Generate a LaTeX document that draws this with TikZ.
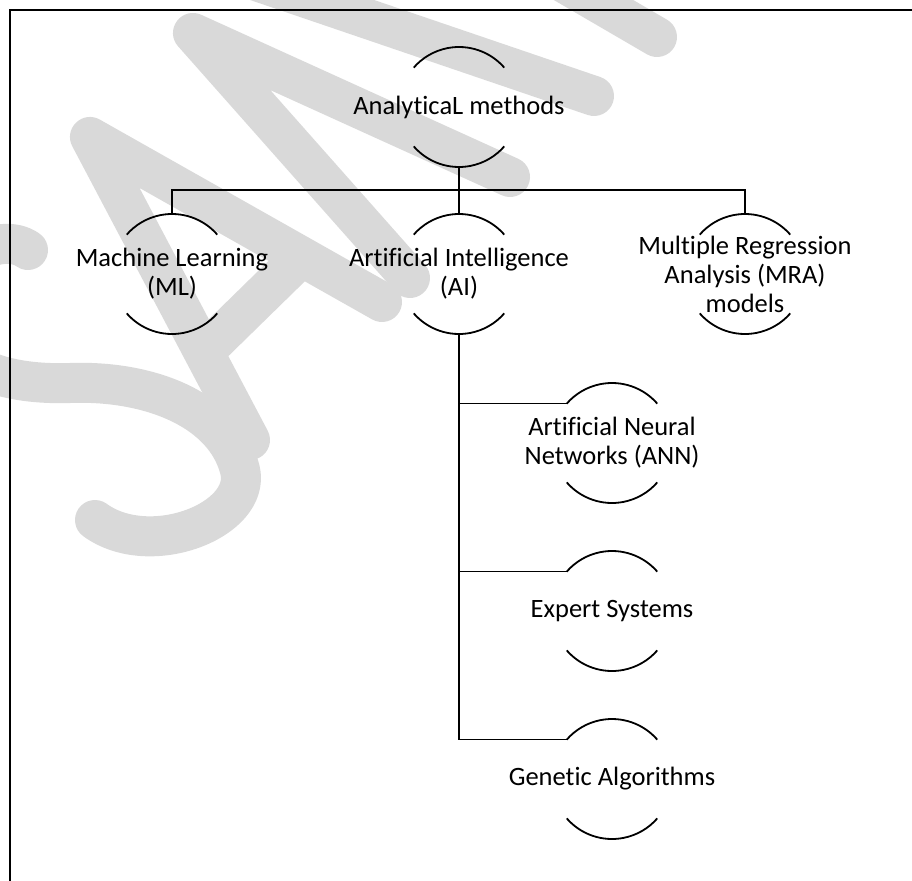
\documentclass[tikz,border=0pt]{standalone}
\usepackage{fontspec}
\setmainfont{Carlito}[Ligatures=NoCommon]
\newcommand\ringarcs[1]{%
  \draw[arcline] ([shift={(41:60pt)}]#1.center) arc[start angle=41,end angle=139,radius=60pt];
  \draw[arcline] ([shift={(221:60pt)}]#1.center) arc[start angle=221,end angle=319,radius=60pt];}
\begin{document}
\begin{tikzpicture}[x=1pt,y=-1pt,
  lbl/.style={font=\fontsize{26.5}{29}\selectfont, align=center, inner sep=0pt},
  ring/.style={circle, minimum size=120pt, inner sep=0pt, draw=none},
  arcline/.style={line width=1.8pt},
  link/.style={line width=1.8pt},
  frame/.style={line width=2pt},
  wmark/.style={draw=black!15, line width=40pt, line cap=round, line join=round}]
\useasboundingbox (0,0) rectangle (912,880);
\clip (0,0) rectangle (912,880);
% watermark "SAMPLE" (partly visible), drawn as strokes
\draw[wmark] (28,250) .. controls (0,230) and (-60,260) .. (-55,320)
   .. controls (-50,370) and (10,385) .. (70,383)
   .. controls (150,380) and (225,410) .. (240,470)
   .. controls (252,520) and (150,560) .. (95,520);
\draw[wmark] (250,440) -- (90,137) -- (382,302);
\draw[wmark] (206,350) -- (296,262);
\draw[wmark] (410,278) -- (193,33) -- (510,177);
\draw[wmark] (224,-30) -- (594,96);
\draw[wmark] (542,-30) -- (657,37);
% frame
\draw[frame] (930,10) -- (10,10) -- (10,900);
% rings
\node[ring] (top) at (459,107) {};
\node[ring] (ml) at (172,274) {};
\node[ring] (ai) at (459,274) {};
\node[ring] (mra) at (745,274) {};
\node[ring] (ann) at (612,443) {};
\node[ring] (exp) at (612,611) {};
\node[ring] (gen) at (612,779) {};
\ringarcs{top}\ringarcs{ml}\ringarcs{ai}\ringarcs{mra}\ringarcs{ann}\ringarcs{exp}\ringarcs{gen}
% labels
\node[lbl] (toplbl) at (top) {AnalyticaL methods};
\node[lbl] (mllbl) at (ml) {Machine Learning\\(ML)};
\node[lbl] (ailbl) at (ai) {Artificial Intelligence\\(AI)};
\node[lbl] (mralbl) at (mra) {Multiple Regression\\Analysis (MRA)\\models};
\node[lbl] (annlbl) at (ann) {Artificial Neural\\Networks (ANN)};
\node[lbl] (explbl) at (exp) {Expert Systems};
\node[lbl] (genlbl) at (gen) {Genetic Algorithms};
% connectors
\coordinate (bar) at (459,190);
\draw[link] (top.south) -- (bar);
\draw[link] (ml.north) |- (bar) -| (mra.north);
\draw[link] (bar) -- (ai.north);
\draw[link] (ai.south) |- (gen.139);
\draw[link] (ai.south |- ann.139) -- (ann.139);
\draw[link] (ai.south |- exp.139) -- (exp.139);
\end{tikzpicture}
\end{document}
